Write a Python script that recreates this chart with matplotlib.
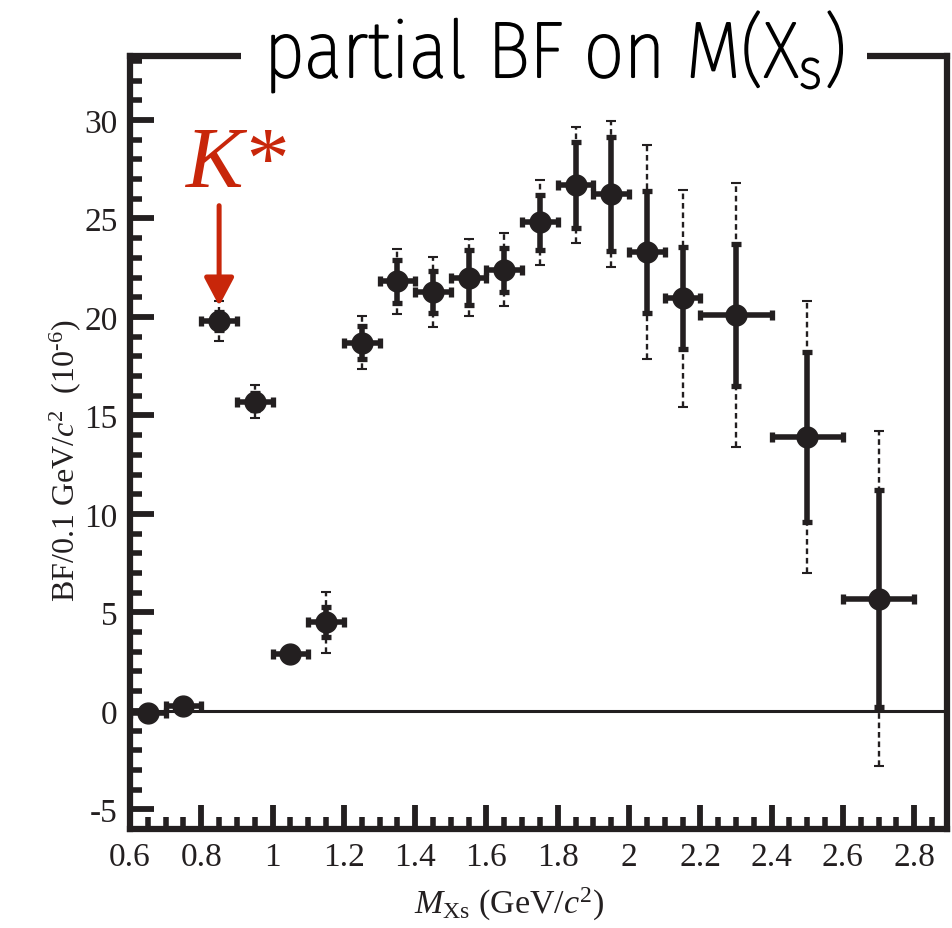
import matplotlib
matplotlib.use('Agg')
import matplotlib.pyplot as plt
from matplotlib import font_manager as fm
from matplotlib import patheffects as pe
from matplotlib.ticker import MultipleLocator

# ---------------- data ----------------
m_xs = [0.65, 0.75, 0.85, 0.95, 1.05, 1.15, 1.25, 1.35, 1.45, 1.55,
        1.65, 1.75, 1.85, 1.95, 2.05, 2.15, 2.30, 2.50, 2.70]
bin_halfwidth = [0.05, 0.05, 0.05, 0.05, 0.05, 0.05, 0.05, 0.05, 0.05, 0.05,
                 0.05, 0.05, 0.05, 0.05, 0.05, 0.05, 0.10, 0.10, 0.10]
pbf = [-0.1, 0.27, 19.8, 15.7, 2.9, 4.5, 18.7, 21.8, 21.25, 22.0,
       22.4, 24.8, 26.7, 26.25, 23.3, 20.95, 20.1, 13.9, 5.7]
err_stat = [0.15, 0.15, 0.45, 0.45, 0.3, 0.75, 0.82, 1.1, 1.07, 1.4,
            1.12, 1.4, 2.2, 2.9, 3.1, 2.6, 3.6, 4.3, 5.5]
err_total = [0.25, 0.3, 1.0, 0.85, 0.35, 1.55, 1.33, 1.65, 1.77, 1.95,
             1.85, 2.15, 2.95, 3.7, 5.45, 5.5, 6.7, 6.9, 8.5]

x_ticks = [0.6, 0.8, 1.0, 1.2, 1.4, 1.6, 1.8, 2.0, 2.2, 2.4, 2.6, 2.8]
x_tick_labels = ['0.6', '0.8', '1', '1.2', '1.4', '1.6', '1.8', '2', '2.2', '2.4', '2.6', '2.8']
y_ticks = [-5, 0, 5, 10, 15, 20, 25, 30]
y_tick_labels = ['-5', '0', '5', '10', '15', '20', '25', '30']

kstar_mass = 0.85
kstar_label = 'K*'
title_text = r'partial BF on M(X$_\mathsf{s}$)'

# ---------------- fonts ----------------
def pick(cands):
    for c in cands:
        try:
            fm.findfont(fm.FontProperties(family=c), fallback_to_default=False)
            return c
        except Exception:
            continue
    return 'DejaVu Sans'

serif = pick(['Liberation Serif', 'Tinos', 'DejaVu Serif'])
title_font = pick(['Fira Sans Condensed', 'Open Sans Condensed', 'Asap Condensed',
                   'PT Sans Narrow', 'Archivo Narrow', 'Liberation Sans Narrow',
                   'Roboto', 'DejaVu Sans'])

plt.rcParams['font.family'] = [serif, 'DejaVu Serif']
plt.rcParams['axes.unicode_minus'] = False
plt.rcParams['mathtext.fontset'] = 'custom'
plt.rcParams['mathtext.rm'] = serif
plt.rcParams['mathtext.it'] = serif + ':italic'
plt.rcParams['mathtext.sf'] = title_font + ':light'

dark = '#231f20'
red = '#c8260a'

# ---------------- figure ----------------
W, H = 952, 929
fig = plt.figure(figsize=(W / 100, H / 100), dpi=100)
L, R, T, B = 130, 947, 57, 830
ax = fig.add_axes([L / W, 1 - B / H, (R - L) / W, (B - T) / H])

ax.set_xlim(0.6, 2.892)
ax.set_ylim(-6.0, 33.25)

for s in ax.spines.values():
    s.set_linewidth(4.5)
    s.set_color(dark)

ax.set_xticks(x_ticks, labels=x_tick_labels)
ax.set_yticks(y_ticks, labels=y_tick_labels)
ax.xaxis.set_minor_locator(MultipleLocator(0.05))
ax.yaxis.set_minor_locator(MultipleLocator(1))
ax.tick_params(which='both', direction='in', top=False, right=False, color=dark,
               labelcolor=dark)
ax.tick_params(which='major', length=17, width=4.2, labelsize=24, pad=9)
ax.tick_params(which='minor', length=8.5, width=4.0)

# zero line
ax.axhline(0, color=dark, lw=2.2, zorder=1)

# total (dotted) errors
eb_tot = ax.errorbar(m_xs, pbf, yerr=err_total, fmt='none', ecolor=dark,
                     elinewidth=1.7, capsize=3.6, capthick=1.5, zorder=2)
eb_tot[2][0].set_linestyle((0, (2.4, 1.6)))

# statistical (solid) errors + bin widths
ax.errorbar(m_xs, pbf, yerr=err_stat, xerr=bin_halfwidth, fmt='none', ecolor=dark,
            elinewidth=4.0, capsize=3.8, capthick=3.8, zorder=3)

ax.plot(m_xs, pbf, 'o', ms=15, color=dark, zorder=5)

# K* annotation
kstar_idx = m_xs.index(kstar_mass)
ax.annotate('', xy=(kstar_mass, pbf[kstar_idx] + 0.76), xytext=(kstar_mass, 25.65),
            arrowprops=dict(arrowstyle='-|>,head_length=0.85,head_width=0.45',
                            mutation_scale=20, lw=3.6, color=red,
                            shrinkA=0, shrinkB=0), zorder=6)
ax.text(kstar_mass + 0.045, 26.65, kstar_label, color=red, fontsize=62,
        family=serif, style='italic', ha='center', va='baseline')

# axis labels
ax.set_ylabel(r'BF/0.1 GeV/$c^2$  (10$^{\text{-6}}$)', fontsize=23, color=dark)
ax.yaxis.label.set_va('center')
ax.yaxis.set_label_coords(-0.08, 0.478)
ax.set_xlabel(r'$M_{\mathrm{Xs}}$ (GeV/$c^2$)', fontsize=24.5, color=dark)
ax.xaxis.set_label_coords(0.464, -0.072)

# title sitting on top frame with white background
tt = fig.text(554 / W, 1 - 78 / H, title_text, family=title_font, fontweight='light',
              fontsize=54, color='black', ha='center', va='baseline', zorder=10)
fig.canvas.draw()
r = fig.canvas.get_renderer()
w = tt.get_window_extent(r).width
fs = 54 * 580 / w
fs = min(fs, 64)
tt.set_fontsize(fs)
fig.canvas.draw()
w2 = tt.get_window_extent(r).width
pad_px = (626 - w2) / 2
tt.set_bbox(dict(boxstyle='square,pad=%.3f' % max(pad_px / (fs * 100 / 72), 0.1),
                 fc='white', ec='none'))
tt.set_path_effects([pe.withStroke(linewidth=1.6, foreground='black')])

fig.savefig('out.png', dpi=100)
